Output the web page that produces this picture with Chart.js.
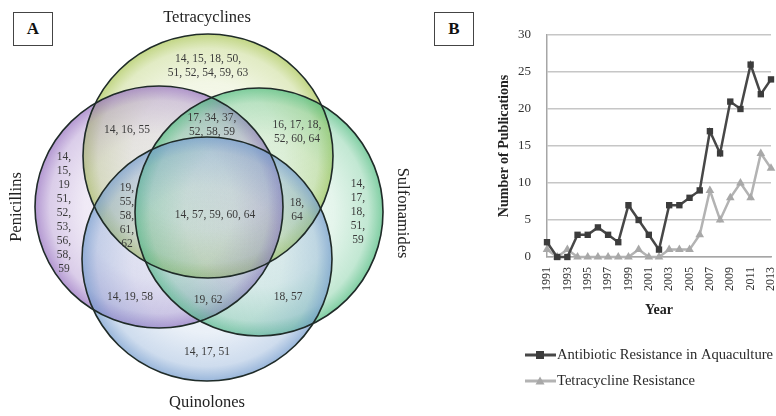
<!DOCTYPE html>
<html>
<head>
<meta charset="utf-8">
<script src="https://cdn.jsdelivr.net/npm/chart.js"></script>
<style>
  body { margin: 0; width: 776px; height: 416px; overflow: hidden; background: #fff; position: relative; }
  .panel { position: absolute; top: 0; height: 416px; }
  .tag { position: absolute; width: 40px; height: 34px; border: 1.5px solid #444; box-sizing: border-box;
         font: bold 17px "Liberation Serif", serif; color: #111; text-align: center; line-height: 32px; background: #fff; }
</style>
</head>
<body>
<div class="panel" style="left:0;width:430px;"><canvas id="venn"></canvas></div>
<div class="panel" style="left:440px;width:340px;"><canvas id="pubs"></canvas></div>
<div class="tag" style="left:13px;top:12px;">A</div>
<div class="tag" style="left:434px;top:12px;">B</div>
<script>
// ---- panel A: which reference numbers fall in each overlap ----
const setNames = ['Tetracyclines', 'Penicillins', 'Sulfonamides', 'Quinolones'];
const regionLabels = [
  ['14, 15, 18, 50,', '51, 52, 54, 59, 63'],
  ['14, 16, 55'],
  ['17, 34, 37,', '52, 58, 59'],
  ['16, 17, 18,', '52, 60, 64'],
  ['14,', '15,', '19', '51,', '52,', '53,', '56,', '58,', '59'],
  ['19,', '55,', '58,', '61,', '62'],
  ['14, 57, 59, 60, 64'],
  ['18,', '64'],
  ['14,', '17,', '18,', '51,', '59'],
  ['14, 19, 58'],
  ['19, 62'],
  ['18, 57'],
  ['14, 17, 51']
];

// ---- panel B: publications per year ----
const years = ['1991','1992','1993','1994','1995','1996','1997','1998','1999','2000','2001','2002',
               '2003','2004','2005','2006','2007','2008','2009','2010','2011','2012','2013'];
const aquaculture  = [2, 0, 0, 3, 3, 4, 3, 2, 7, 5, 3, 1, 7, 7, 8, 9, 17, 14, 21, 20, 26, 22, 24];
const tetracycline = [1, 0, 1, 0, 0, 0, 0, 0, 0, 1, 0, 0, 1, 1, 1, 3, 9, 5, 8, 10, 8, 14, 12];

// layout of the venn (in the 430x416 coordinate space of panel A)
const ellipses = [
  { cx: 208, cy: 156, rx: 125, ry: 122, rgb: [170, 198, 85] },
  { cx: 159, cy: 207, rx: 124, ry: 121, rgb: [150, 112, 192] },
  { cx: 259, cy: 212, rx: 124, ry: 124, rgb: [80, 188, 128] },
  { cx: 207, cy: 259, rx: 125, ry: 122, rgb: [115, 155, 205] }
];
const regionAnchors = [[208, 66], [127, 130], [212, 125], [297, 132], [64, 213], [127, 216],
                       [215, 215], [297, 210], [358, 212], [130, 297], [208, 300], [288, 297], [207, 352]];
const setLabelPos = [[207, 18, 0], [17, 207, -90], [402, 213, 90], [207, 403, 0]];

const rgba = (c, a) => `rgba(${c[0]},${c[1]},${c[2]},${a})`;

const vennPlugin = {
  id: 'venn',
  beforeDatasetsDraw(chart) {
    const { ctx, scales: { x, y } } = chart;
    const shapes = ellipses.map(e => {
      const px = x.getPixelForValue(e.cx), py = y.getPixelForValue(e.cy);
      return { px, py, rx: Math.abs(x.getPixelForValue(e.cx + e.rx) - px),
               ry: Math.abs(y.getPixelForValue(e.cy + e.ry) - py), rgb: e.rgb };
    });
    shapes.forEach(s => {
      ctx.save();
      ctx.translate(s.px, s.py);
      ctx.scale(1, s.ry / s.rx);
      const g = ctx.createRadialGradient(0, 0, 0, 0, 0, s.rx);
      g.addColorStop(0, rgba(s.rgb, 0.07));
      g.addColorStop(0.6, rgba(s.rgb, 0.15));
      g.addColorStop(0.88, rgba(s.rgb, 0.35));
      g.addColorStop(1, rgba(s.rgb, 0.72));
      ctx.beginPath();
      ctx.arc(0, 0, s.rx, 0, Math.PI * 2);
      ctx.fillStyle = g;
      ctx.fill();
      ctx.restore();
    });
    shapes.forEach(s => {
      ctx.save();
      ctx.beginPath();
      ctx.ellipse(s.px, s.py, s.rx, s.ry, 0, 0, Math.PI * 2);
      ctx.strokeStyle = '#1f2b28';
      ctx.lineWidth = 1.6;
      ctx.stroke();
      ctx.restore();
    });
  },
  afterDatasetsDraw(chart) {
    const { ctx, scales: { x, y } } = chart;
    const pts = chart.getDatasetMeta(0).data;
    ctx.save();
    ctx.fillStyle = '#3a3a3a';
    ctx.font = '11.5px "Liberation Serif", serif';
    ctx.textAlign = 'center';
    ctx.textBaseline = 'middle';
    regionLabels.forEach((lines, i) => {
      const step = lines.length > 2 ? 14 : 13.5;
      const top = pts[i].y - (lines.length - 1) * step / 2;
      lines.forEach((t, j) => ctx.fillText(t, pts[i].x, top + j * step));
    });
    ctx.fillStyle = '#222';
    ctx.font = '16.5px "Liberation Serif", serif';
    setNames.forEach((n, i) => {
      const [lx, ly, rot] = setLabelPos[i];
      ctx.save();
      ctx.translate(x.getPixelForValue(lx), y.getPixelForValue(ly));
      ctx.rotate(rot * Math.PI / 180);
      ctx.fillText(n, 0, 0);
      ctx.restore();
    });
    ctx.restore();
  }
};

new Chart(document.getElementById('venn'), {
  type: 'scatter',
  data: { datasets: [{ data: regionAnchors.map(([px, py]) => ({ x: px, y: py })), pointRadius: 0 }] },
  options: {
    animation: false, responsive: true, maintainAspectRatio: false, events: [],
    layout: { padding: 0 },
    plugins: { legend: { display: false }, tooltip: { enabled: false } },
    scales: {
      x: { type: 'linear', min: 0, max: 430, display: false },
      y: { type: 'linear', min: 0, max: 416, reverse: true, display: false }
    }
  },
  plugins: [vennPlugin]
});

// legend drawn under the plot like the original
const legendPlugin = {
  id: 'sideLegend',
  afterDraw(chart) {
    const { ctx } = chart;
    const rows = [355, 381];
    chart.data.datasets.forEach((ds, i) => {
      const yy = rows[i];
      ctx.save();
      ctx.strokeStyle = ds.borderColor;
      ctx.lineWidth = 3;
      ctx.beginPath(); ctx.moveTo(85, yy); ctx.lineTo(116, yy); ctx.stroke();
      ctx.fillStyle = ds.backgroundColor;
      ctx.beginPath();
      if (ds.pointStyle === 'rect') ctx.rect(96, yy - 4, 8, 8);
      else { ctx.moveTo(100, yy - 4.5); ctx.lineTo(104.5, yy + 3.5); ctx.lineTo(95.5, yy + 3.5); ctx.closePath(); }
      ctx.fill();
      ctx.fillStyle = '#2a2a2a';
      ctx.font = '14.6px "Liberation Serif", serif';
      ctx.textBaseline = 'middle';
      ctx.fillText(ds.label, 117, yy);
      ctx.restore();
    });
  }
};

const serif = '"Liberation Serif", serif';
new Chart(document.getElementById('pubs'), {
  type: 'line',
  data: {
    labels: years,
    datasets: [
      { label: 'Antibiotic Resistance in Aquaculture', data: aquaculture, borderColor: '#474747',
        backgroundColor: '#3c3c3c', borderWidth: 2.5, pointStyle: 'rect', pointRadius: 4.5,
        pointBorderWidth: 0, tension: 0, clip: false },
      { label: 'Tetracycline Resistance', data: tetracycline, borderColor: '#b3b3b3',
        backgroundColor: '#a8a8a8', borderWidth: 2.5, pointStyle: 'triangle', pointRadius: 5,
        pointBorderWidth: 0, tension: 0, clip: false }
    ]
  },
  options: {
    animation: false, responsive: true, maintainAspectRatio: false, events: [],
    layout: { padding: { left: 52, top: 35, right: 9, bottom: 93 } },
    plugins: { legend: { display: false }, tooltip: { enabled: false } },
    scales: {
      x: {
        grid: { display: false, drawTicks: false },
        border: { display: true, color: '#a6a6a6', width: 1.5 },
        ticks: { autoSkip: false, minRotation: 90, maxRotation: 90, padding: 10, color: '#333',
                 font: { family: serif, size: 12 },
                 callback: (v, i) => (i % 2 === 0 ? years[i] : '') },
        title: { display: true, text: 'Year', color: '#222', padding: { top: 0, bottom: 4 },
                 font: { family: serif, size: 14, weight: 'bold' } },
        afterFit(s) { s.height = 66; s.paddingLeft = 0; s.paddingRight = 0; }
      },
      y: {
        min: 0, max: 30,
        grid: { color: '#c6c6c6', lineWidth: 1.5, drawTicks: false },
        border: { display: true, color: '#a6a6a6', width: 1.5 },
        ticks: { stepSize: 5, padding: 16, color: '#333', font: { family: serif, size: 13 } },
        title: { display: true, text: 'Number of Publications', color: '#222',
                 font: { family: serif, size: 14, weight: 'bold' } },
        afterFit(s) { s.width = 55; s.paddingTop = 0; s.paddingBottom = 0; }
      }
    }
  },
  plugins: [legendPlugin]
});
</script>
</body>
</html>
